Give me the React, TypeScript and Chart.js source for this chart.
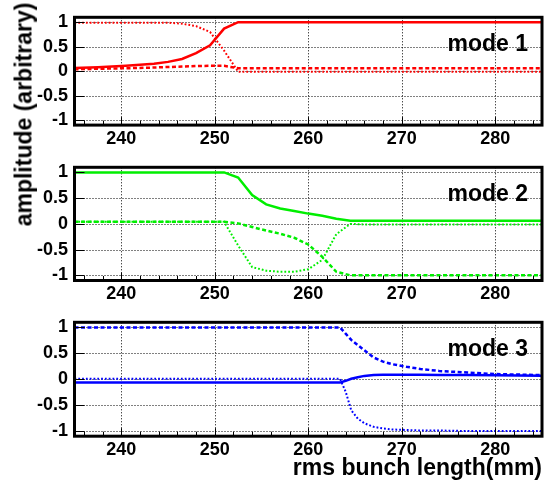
import React, { useEffect, useRef } from "react";
import { Chart, registerables } from "chart.js";

Chart.register(...registerables);

const FONT = '"Liberation Sans", Arial, Helvetica, sans-serif';

// axis ticks
const xTickValues = [240, 250, 260, 270, 280];
const xTickLabels = ["240", "250", "260", "270", "280"];
const xMinorTickValues = [236, 238, 242, 244, 246, 248, 252, 254, 256, 258, 262, 264, 266, 268, 272, 274, 276, 278, 282, 284];
const yTickValues = [-1, -0.5, 0, 0.5, 1];
const yTickLabels = ["-1", "-0.5", "0", "0.5", "1"];
const modeLabels = ["mode 1", "mode 2", "mode 3"];
const xTitle = "rms bunch length(mm)";
const yTitle = "amplitude (arbitrary)";

// mode 1 (red)
const x1 = [235, 237.5, 240.5, 243.5, 245, 246.5, 248, 249.5, 251, 252.5, 285];
const m1Solid = [0.065, 0.08, 0.11, 0.15, 0.19, 0.25, 0.37, 0.53, 0.87, 1.0, 1.0];
const m1Dashed = [0.04, 0.05, 0.06, 0.075, 0.085, 0.095, 0.105, 0.11, 0.11, 0.06, 0.06];
const m1Dotted = [0.99, 0.99, 0.99, 0.99, 0.99, 0.97, 0.92, 0.8, 0.42, -0.01, -0.01];

// mode 2 (green)
const x2 = [235, 251, 252.5, 254, 255.5, 257, 258.5, 260, 261.5, 263, 264.5, 266, 285];
const m2Solid = [1.0, 1.0, 0.9, 0.56, 0.38, 0.3, 0.25, 0.2, 0.16, 0.1, 0.06, 0.06, 0.06];
const m2Dashed = [0.04, 0.04, 0.01, -0.06, -0.13, -0.19, -0.27, -0.4, -0.64, -0.93, -1.0, -1.0, -1.0];
const m2Dotted = [0.04, 0.04, -0.42, -0.84, -0.91, -0.93, -0.93, -0.88, -0.7, -0.2, 0.0, -0.01, -0.01];

// mode 3 (blue)
const x3 = [235, 263.4, 264, 264.6, 265.3, 266, 267, 268, 269, 270.5, 272, 274, 277, 280, 285];
const m3Solid = [-0.065, -0.065, -0.03, 0.01, 0.04, 0.065, 0.08, 0.085, 0.085, 0.085, 0.085, 0.08, 0.08, 0.075, 0.07];
const m3Dashed = [1.0, 1.0, 0.88, 0.76, 0.66, 0.56, 0.42, 0.34, 0.29, 0.24, 0.2, 0.16, 0.13, 0.1, 0.08];
const m3Dotted = [0.01, 0.01, -0.24, -0.6, -0.76, -0.85, -0.92, -0.95, -0.97, -0.98, -0.99, -0.99, -1.0, -1.0, -1.0];

const pts = (xs: number[], ys: number[]) => xs.map((x, i) => ({ x, y: ys[i] }));

const panels = [
  {
    color: "#ff0000",
    xs: x1, solid: m1Solid, dashed: m1Dashed, dotted: m1Dotted,
    label: modeLabels[0], top: 0, height: 150, padTop: 2.4, axisH: 24.9, showTitle: false, dash: [4, 2.5],
  },
  {
    color: "#00ee00",
    xs: x2, solid: m2Solid, dashed: m2Dashed, dotted: m2Dotted,
    label: modeLabels[1], top: 150, height: 155, padTop: 8.5, axisH: 24.5, showTitle: false, dash: [4, 2.5],
  },
  {
    color: "#0000ff",
    xs: x3, solid: m3Solid, dashed: m3Dashed, dotted: m3Dotted,
    label: modeLabels[2], top: 305, height: 181, padTop: 9.4, axisH: 49.8, showTitle: true, dash: [4, 2.5],
  },
];

const decorPlugin = {
  id: "decor",
  beforeDatasetsDraw(chart: any) {
    const { ctx, chartArea: a, scales } = chart;
    const xs = scales.x, ys = scales.y;
    ctx.save();
    ctx.strokeStyle = "#000";
    ctx.lineWidth = 1;
    ctx.setLineDash([1, 2]);
    ctx.beginPath();
    for (const v of xTickValues) {
      const px = Math.round(xs.getPixelForValue(v)) + 0.5;
      ctx.moveTo(px, a.top);
      ctx.lineTo(px, a.bottom);
    }
    for (const v of yTickValues) {
      const py = Math.round(ys.getPixelForValue(v)) + 0.5;
      ctx.moveTo(a.left, py);
      ctx.lineTo(a.right, py);
    }
    ctx.stroke();
    ctx.restore();
  },
  afterDatasetsDraw(chart: any, _args: any, opts: any) {
    const { ctx, chartArea: a, scales } = chart;
    const xs = scales.x, ys = scales.y;
    ctx.save();
    ctx.setLineDash([]);
    ctx.strokeStyle = "#000";
    ctx.lineWidth = 1;
    ctx.beginPath();
    for (const v of xTickValues) {
      const px = Math.round(xs.getPixelForValue(v)) + 0.5;
      ctx.moveTo(px, a.bottom);
      ctx.lineTo(px, a.bottom - 8);
    }
    for (const v of xMinorTickValues) {
      const px = Math.round(xs.getPixelForValue(v)) + 0.5;
      ctx.moveTo(px, a.bottom);
      ctx.lineTo(px, a.bottom - 4.5);
    }
    for (const v of yTickValues) {
      const py = Math.round(ys.getPixelForValue(v)) + 0.5;
      ctx.moveTo(a.left, py);
      ctx.lineTo(a.left + 10, py);
    }
    ctx.stroke();
    ctx.lineWidth = 3;
    ctx.strokeRect(a.left, a.top, a.right - a.left, a.bottom - a.top);
    ctx.fillStyle = "#000";
    ctx.font = `bold 23px ${FONT}`;
    ctx.textAlign = "right";
    ctx.textBaseline = "alphabetic";
    ctx.fillText(opts.label, 528, a.top + 34);
    ctx.restore();
  },
};

function Panel(p: any) {
  const ref = useRef<HTMLCanvasElement | null>(null);
  useEffect(() => {
    if (!ref.current) return;
    const common = { pointRadius: 0, fill: false, tension: 0, borderColor: p.color };
    const chart = new Chart(ref.current, {
      type: "line",
      data: {
        datasets: [
          { ...common, data: pts(p.xs, p.solid), borderWidth: 2.5 },
          { ...common, data: pts(p.xs, p.dashed), borderWidth: 2.5, borderDash: p.dash },
          { ...common, data: pts(p.xs, p.dotted), borderWidth: 2, borderDash: [1.8, 2] },
        ],
      },
      options: {
        animation: false,
        responsive: false,
        maintainAspectRatio: false,
        devicePixelRatio: 1,
        layout: { padding: { top: p.padTop, right: 5, left: 0, bottom: 0 } },
        plugins: {
          legend: { display: false },
          tooltip: { enabled: false },
          decor: { label: p.label },
        } as any,
        scales: {
          x: {
            type: "linear",
            min: 235,
            max: 285,
            afterBuildTicks: (s: any) => {
              s.ticks = xTickValues.map((v) => ({ value: v }));
            },
            afterFit: (s: any) => {
              s.height = p.axisH;
            },
            ticks: {
              autoSkip: false,
              maxRotation: 0,
              padding: 3,
              color: "#000",
              font: { family: FONT, size: 18, weight: "bold" },
              callback: (_v: any, i: number) => xTickLabels[i],
            },
            grid: { display: false, drawTicks: false },
            border: { display: false },
            title: p.showTitle
              ? {
                  display: true,
                  text: xTitle,
                  align: "end",
                  color: "#000",
                  font: { family: FONT, size: 23, weight: "bold" },
                  padding: { top: 0, bottom: 3.5 },
                }
              : { display: false },
          },
          y: {
            type: "linear",
            min: -1.1,
            max: 1.1,
            afterBuildTicks: (s: any) => {
              s.ticks = yTickValues.map((v) => ({ value: v }));
            },
            afterFit: (s: any) => {
              s.width = 74.5;
            },
            ticks: {
              autoSkip: false,
              padding: 6.5,
              color: "#000",
              font: { family: FONT, size: 18, weight: "bold" },
              callback: (_v: any, i: number) => yTickLabels[i],
            },
            grid: { display: false, drawTicks: false },
            border: { display: false },
          },
        },
      } as any,
      plugins: [decorPlugin as any],
    });
    return () => chart.destroy();
  }, []);
  return (
    <canvas
      ref={ref}
      width={547}
      height={p.height}
      style={{ position: "absolute", left: 0, top: p.top, width: 547, height: p.height, display: "block" }}
    />
  );
}

export default function App() {
  return (
    <div style={{ position: "absolute", left: 0, top: 0, width: 547, height: 486, background: "#fff", overflow: "hidden" }}>
      {panels.map((p, i) => (
        <Panel key={i} {...p} />
      ))}
      <div
        style={{
          position: "absolute",
          left: 23.8 - 150,
          top: 114.2 - 11.5,
          width: 300,
          height: 23,
          lineHeight: "23px",
          fontSize: 23,
          fontWeight: "bold",
          fontFamily: FONT,
          textAlign: "center",
          color: "#000",
          transform: "rotate(-90deg)",
          whiteSpace: "nowrap",
        }}
      >
        {yTitle}
      </div>
    </div>
  );
}
